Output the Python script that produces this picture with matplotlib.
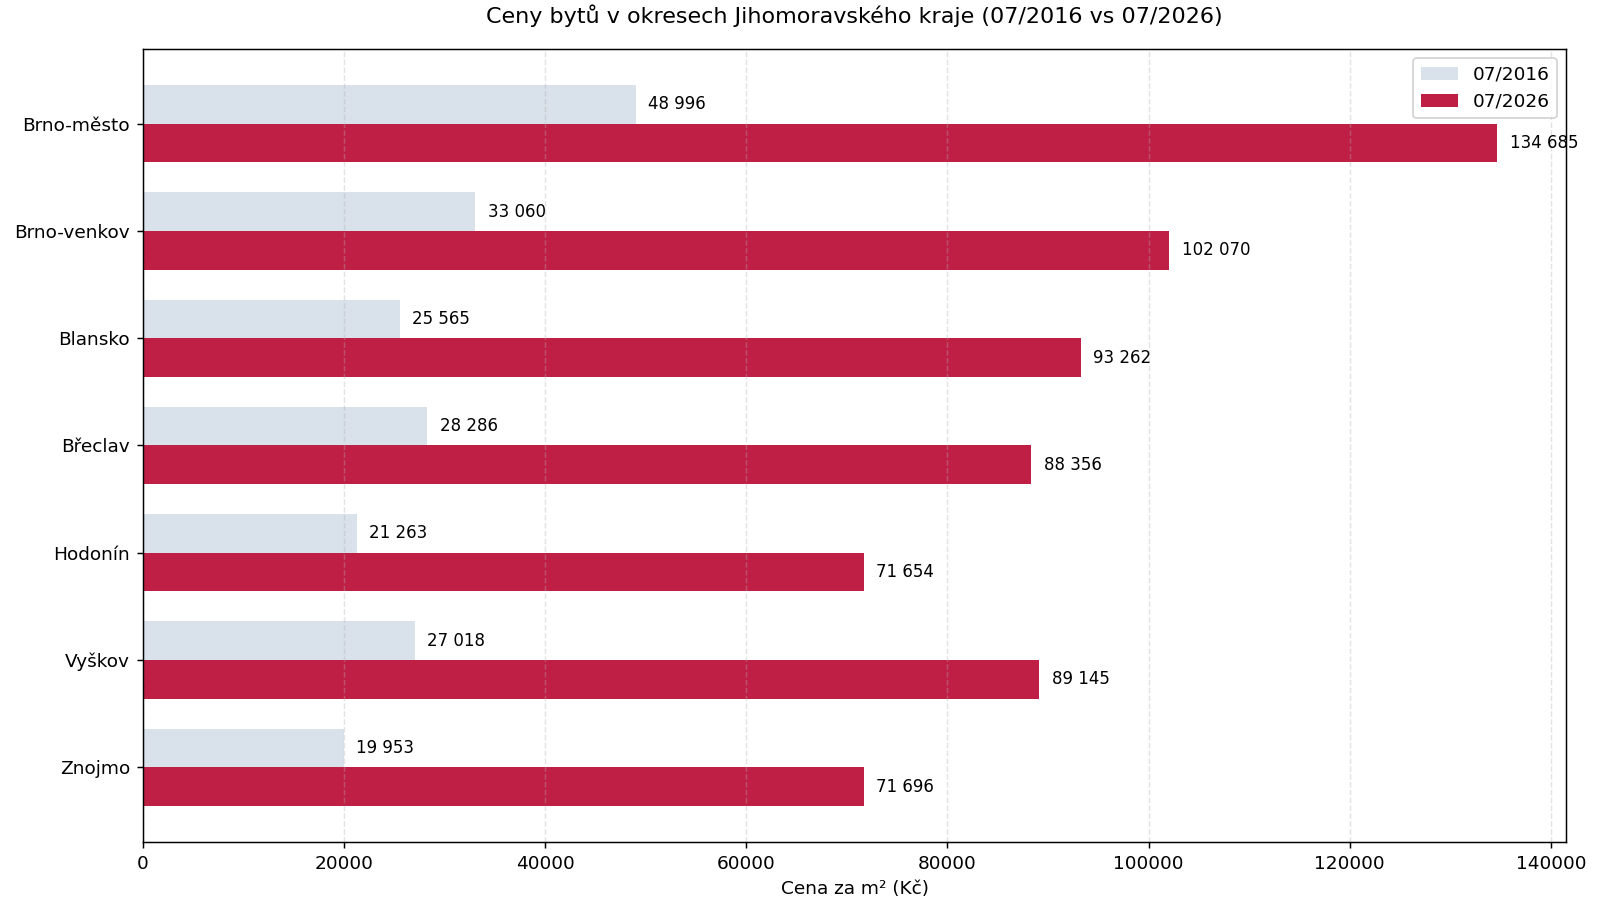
import numpy as np
import matplotlib
matplotlib.use("Agg")
import matplotlib.pyplot as plt

# okresy a ceny za m2
okresy = ['Brno-město', 'Brno-venkov', 'Blansko', 'Břeclav', 'Hodonín', 'Vyškov', 'Znojmo']
ceny_2016 = [48996, 33060, 25565, 28286, 21263, 27018, 19953]
ceny_2026 = [134685, 102070, 93262, 88356, 71654, 89145, 71696]

def fmt(v):
    return f'{v:,}'.replace(',', ' ')

y = np.arange(len(okresy))
h = 0.36

fig, ax = plt.subplots(figsize=(12, 6.75), dpi=400/3)
ax.barh(y - h/2, ceny_2016, height=h, color='#d9e1ea', label='07/2016')
ax.barh(y + h/2, ceny_2026, height=h, color='#c01f45', label='07/2026')

mx = max(ceny_2026)
for i in range(len(okresy)):
    ax.text(ceny_2016[i] + mx*0.009, y[i] - h/2, fmt(ceny_2016[i]), va='center', fontsize=9)
    ax.text(ceny_2026[i] + mx*0.009, y[i] + h/2, fmt(ceny_2026[i]), va='center', fontsize=9)

ax.set_yticks(y)
ax.set_yticklabels(okresy)
ax.invert_yaxis()
ax.set_xlim(0, mx*1.051)
ax.set_xlabel('Cena za m² (Kč)')
ax.set_title('Ceny bytů v okresech Jihomoravského kraje (07/2016 vs 07/2026)', pad=14)
ax.grid(axis='x', linestyle='--', alpha=0.35)
ax.legend(loc='upper right')

plt.subplots_adjust(left=0.0894, right=0.979, top=0.9456, bottom=0.0644)
fig.savefig('out.png')
